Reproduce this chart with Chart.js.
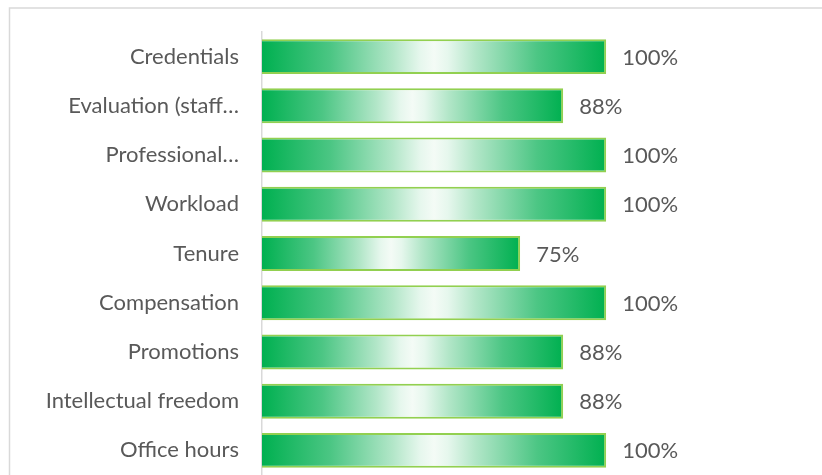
<!DOCTYPE html>
<html>
<head>
<meta charset="utf-8">
<script src="https://cdn.jsdelivr.net/npm/chart.js@4"></script>
<style>
  html, body { margin: 0; padding: 0; background: #fff; }
  #wrap { position: relative; width: 822px; height: 475px; overflow: hidden; }
  canvas { display: block; }
</style>
</head>
<body>
<div id="wrap"><canvas id="c" width="822" height="475"></canvas></div>
<script>
const categories = [
  "Credentials",
  "Evaluation (staff…",
  "Professional…",
  "Workload",
  "Tenure",
  "Compensation",
  "Promotions",
  "Intellectual freedom",
  "Office hours"
];
const shareValues = [1.0, 0.875, 1.0, 1.0, 0.75, 1.0, 0.875, 0.875, 1.0];

const FONT = "Lato, 'Open Sans', sans-serif";
const TEXT = "#595959";
const FSIZE = 22;

function barGradient(ctx) {
  const chart = ctx.chart;
  const xs = chart.scales && chart.scales.x;
  if (ctx.type !== "data" || !xs) return "#00b050";
  const x0 = xs.getPixelForValue(0);
  const x1 = xs.getPixelForValue(ctx.raw);
  if (!isFinite(x0) || !isFinite(x1) || x1 - x0 < 1) return "#00b050";
  const g = chart.ctx.createLinearGradient(x0, 0, x1, 0);
  g.addColorStop(0, "#00b050");
  g.addColorStop(0.2, "#4cc684");
  g.addColorStop(0.38, "#b2e6c8");
  g.addColorStop(0.46, "#e6f7ed");
  g.addColorStop(0.5, "#f4fbf6");
  g.addColorStop(0.54, "#e6f7ed");
  g.addColorStop(0.62, "#b2e6c8");
  g.addColorStop(0.8, "#4cc684");
  g.addColorStop(1, "#00b050");
  return g;
}

const frame = {
  id: "frame",
  beforeDraw(chart) {
    const c = chart.ctx;
    c.save();
    c.strokeStyle = "#d9d9d9";
    c.lineWidth = 1.5;
    c.beginPath();
    c.moveTo(9.5, 480);
    c.lineTo(9.5, 8);
    c.lineTo(830, 8);
    c.stroke();
    c.restore();
  }
};

const valueLabels = {
  id: "valueLabels",
  afterDatasetsDraw(chart) {
    const c = chart.ctx;
    const meta = chart.getDatasetMeta(0);
    c.save();
    c.font = FSIZE + "px " + FONT;
    c.fillStyle = TEXT;
    c.textAlign = "left";
    c.textBaseline = "middle";
    meta.data.forEach((bar, i) => {
      const v = chart.data.datasets[0].data[i];
      c.fillText(Math.round(v * 100) + "%", bar.x + 16, bar.y + 1);
    });
    c.restore();
  }
};

new Chart(document.getElementById("c"), {
  type: "bar",
  data: {
    labels: categories,
    datasets: [{
      data: shareValues,
      backgroundColor: barGradient,
      borderColor: "#92d050",
      borderWidth: 2,
      barPercentage: 0.71,
      categoryPercentage: 1,
      clip: false
    }]
  },
  options: {
    indexAxis: "y",
    responsive: false,
    animation: false,
    devicePixelRatio: 1,
    layout: { padding: { top: 32, right: 147, bottom: 0, left: 0 } },
    plugins: { legend: { display: false }, tooltip: { enabled: false } },
    scales: {
      x: {
        display: false,
        min: 0,
        max: 1.2
      },
      y: {
        position: "left",
        afterFit(scale) {
          scale.width = 262;
          scale.paddingTop = 0;
          scale.paddingBottom = 0;
        },
        grid: { display: false, drawTicks: false },
        border: { display: true, color: "#d9d9d9", width: 1.5 },
        ticks: {
          padding: 23,
          color: TEXT,
          font: { family: FONT, size: FSIZE },
          autoSkip: false
        }
      }
    }
  },
  plugins: [frame, valueLabels]
});
</script>
</body>
</html>
